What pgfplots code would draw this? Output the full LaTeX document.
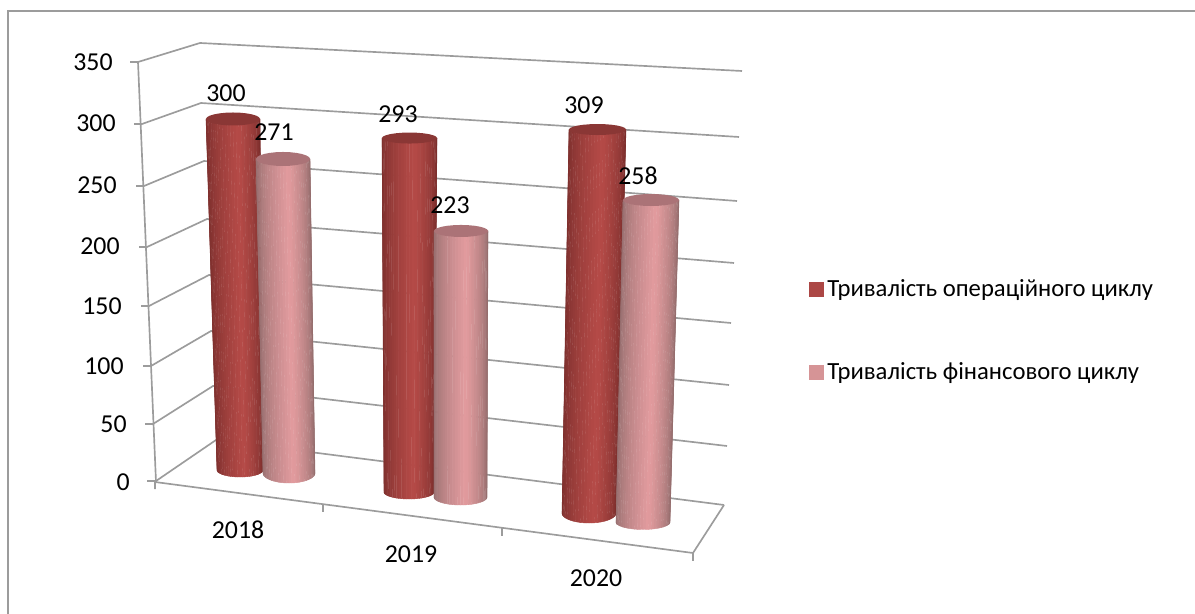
\documentclass[border=0pt]{standalone}
\usepackage{fontspec}
\setmainfont{Carlito}
\usepackage{pgfplots}
\usepackage{pgfplotstable}
\pgfplotsset{compat=1.18}
\definecolor{gridg}{HTML}{9C9C9C}
\definecolor{capred}{HTML}{8A3735}
\definecolor{cappink}{HTML}{AB7377}
\definecolor{legred}{HTML}{AC4745}
\definecolor{legpink}{HTML}{D69496}
% value, top and base of each cylinder in picture pixels, then the pixels per unit
\pgfplotstableread{
year value xtl xtr xbl xbr yb hb ht scale lx ly
2018 300 206 260 217 263 470 7 6.5 1.17 226 93
2019 293 382 437 384 434 492 7 5.5 1.208 398 114
2020 309 569 626 562 616 513 10 5.5 1.241 584 105
}\serA
\pgfplotstableread{
year value xtl xtr xbl xbr yb hb ht scale lx ly
2018 271 256 310 263 315 473 10 7 1.1587 274 132
2019 223 434 488 434 487 497 8 6 1.193 450 205
2020 258 623 679 616 670 522 7.5 6 1.248 638 176
}\serB
\newcommand{\gv}[3]{\pgfplotstablegetelem{#2}{#3}\of{#1}\edef\gvres{\pgfplotsretval}}
\newcommand{\setred}{\def\eR{122}\def\eG{46}\def\eB{44}\def\cR{182}\def\cG{75}\def\cB{72}\def\capc{capred}}
\newcommand{\setpink}{\def\eR{146}\def\eG{108}\def\eB{108}\def\cR{227}\def\cG{156}\def\cB{159}\def\capc{cappink}}
\newcommand{\drawcyl}[2]{%
 \gv{#1}{#2}{value}\let\cV\gvres
 \gv{#1}{#2}{xtl}\let\cXtl\gvres
 \gv{#1}{#2}{xtr}\let\cXtr\gvres
 \gv{#1}{#2}{xbl}\let\cXbl\gvres
 \gv{#1}{#2}{xbr}\let\cXbr\gvres
 \gv{#1}{#2}{yb}\let\cYb\gvres
 \gv{#1}{#2}{hb}\let\cHb\gvres
 \gv{#1}{#2}{ht}\let\cHt\gvres
 \gv{#1}{#2}{scale}\let\cS\gvres
 \pgfmathsetmacro\cYt{\cYb-\cV*\cS}%
 \pgfmathsetmacro\cAt{(\cXtr-\cXtl)/2}%
 \pgfmathsetmacro\cCt{(\cXtr+\cXtl)/2}%
 \foreach \t in {0,6,...,174}{%
  \pgfmathsetmacro\fa{(1-cos(\t))/2}%
  \pgfmathsetmacro\fb{(1-cos(\t+6))/2}%
  \pgfmathsetmacro\fm{(\fa+\fb)/2}%
  \pgfmathsetmacro\tt{pow(\fm<0.6 ? \fm/0.6 : (1-\fm)/0.4, 0.6)}%
  \pgfmathtruncatemacro\sR{\eR+(\cR-\eR)*\tt}%
  \pgfmathtruncatemacro\sG{\eG+(\cG-\eG)*\tt}%
  \pgfmathtruncatemacro\sB{\eB+(\cB-\eB)*\tt}%
  \pgfmathsetmacro\xta{\cXtl+\fa*(\cXtr-\cXtl)}%
  \pgfmathsetmacro\xtb{\cXtl+\fb*(\cXtr-\cXtl)}%
  \pgfmathsetmacro\xba{\cXbl+\fa*(\cXbr-\cXbl)}%
  \pgfmathsetmacro\xbb{\cXbl+\fb*(\cXbr-\cXbl)}%
  \pgfmathsetmacro\yba{\cYb+\cHb*sin(\t)}%
  \pgfmathsetmacro\ybb{\cYb+\cHb*sin(\t+6)}%
  \edef\tmp{\noexpand\addplot[forget plot,line width=0.25pt,
    color={rgb,255:red,\sR;green,\sG;blue,\sB},fill={rgb,255:red,\sR;green,\sG;blue,\sB}]
    coordinates {(\xta,\cYt)(\xba,\yba)(\xbb,\ybb)(\xtb,\cYt)} -- cycle;}\tmp
 }%
 \xdef\pts{}%
 \foreach \t in {0,15,...,345}{%
  \pgfmathsetmacro\px{\cCt+\cAt*cos(\t)}%
  \pgfmathsetmacro\py{\cYt+\cHt*sin(\t)}%
  \xdef\pts{\pts (\px,\py)}}%
 \edef\tmp{\noexpand\addplot[draw=none,forget plot,fill=\capc] coordinates {\pts} -- cycle;}\tmp
}
\newcommand{\drawlab}[2]{%
 \gv{#1}{#2}{value}\let\cV\gvres
 \gv{#1}{#2}{lx}\let\cLx\gvres
 \gv{#1}{#2}{ly}\let\cLy\gvres
 \edef\tmp{\noexpand\node[inner sep=0pt,font=\noexpand\fontsize{15.5}{18}\noexpand\selectfont] at (axis cs:\cLx,\cLy) {\cV};}\tmp
}
\begin{document}
\begin{tikzpicture}
\useasboundingbox (0,0) rectangle (717pt,368.4pt);
\begin{axis}[
 scale only axis, width=717pt, height=368.4pt,
 xmin=0, xmax=1195, ymin=0, ymax=614, y dir=reverse,
 hide axis, clip=false,
 legend cell align=left,
 legend image code/.code={\fill[#1] (0pt,-4.2pt) rectangle (8.4pt,4.2pt);},
 legend style={at={(axis cs:809,279)},anchor=north west,draw=none,fill=none,inner sep=0pt,
   row sep=38pt,font=\fontsize{14.8}{16}\selectfont,
   nodes={inner xsep=2pt,inner ysep=0pt}},
]
% chart frame: top and left edges only
\addplot[color=gridg,line width=1.2pt,forget plot] coordinates {(8,614)(8,11)(1195,11)};
% grid levels: tick, axis, back corner, right end
\addplot[gridg,line width=1pt,forget plot] coordinates {(130,62)(138,62)(200,43)(742,71)};
\addplot[gridg,line width=1pt,forget plot] coordinates {(134,124)(142,124)(201,103)(739,137)};
\addplot[gridg,line width=1pt,forget plot] coordinates {(136,186)(144,186)(204,161)(737,201)};
\addplot[gridg,line width=1pt,forget plot] coordinates {(139,247)(147,247)(207,219)(734,263)};
\addplot[gridg,line width=1pt,forget plot] coordinates {(141,306)(149,306)(209,275)(731,323)};
\addplot[gridg,line width=1pt,forget plot] coordinates {(143,366)(151,366)(211,331)(729,385)};
\addplot[gridg,line width=1pt,forget plot] coordinates {(145,424)(153,424)(213,386)(727,446)};
\addplot[gridg,line width=1pt,forget plot] coordinates {(147,481)(156,481)(216,440)(724,505)};
% value axis and floor
\addplot[gridg,line width=1pt,forget plot] coordinates {(138,62)(156,482)};
\addplot[gridg,line width=1pt,forget plot] coordinates {(155,489)(155,482)(693,553)(724,505)};
\addplot[gridg,line width=1pt,forget plot] coordinates {(323,504)(323,512)};
\addplot[gridg,line width=1pt,forget plot] coordinates {(502,528)(502,536)};
\addplot[gridg,line width=1pt,forget plot] coordinates {(693,553)(693,561)};
% cylinders
\setred\drawcyl{\serA}{0}
\setpink\drawcyl{\serB}{0}
\setred\drawcyl{\serA}{1}
\setpink\drawcyl{\serB}{1}
\setred\drawcyl{\serA}{2}
\setpink\drawcyl{\serB}{2}
\drawlab{\serA}{0}\drawlab{\serB}{0}
\drawlab{\serA}{1}\drawlab{\serB}{1}
\drawlab{\serA}{2}\drawlab{\serB}{2}
% value axis labels
\tikzset{vl/.style={anchor=east,inner sep=0pt,font=\fontsize{15.5}{18}\selectfont}}
\node[vl] at (axis cs:113,62) {350};
\node[vl] at (axis cs:116,123) {300};
\node[vl] at (axis cs:117,185) {250};
\node[vl] at (axis cs:120,246) {200};
\node[vl] at (axis cs:122,306) {150};
\node[vl] at (axis cs:124,366) {100};
\node[vl] at (axis cs:127,424) {50};
\node[vl] at (axis cs:130,482) {0};
\tikzset{cl/.style={inner sep=0pt,font=\fontsize{15.5}{18}\selectfont}}
\node[cl] at (axis cs:238,530) {2018};
\node[cl] at (axis cs:411,554) {2019};
\node[cl] at (axis cs:596,578) {2020};
\addlegendimage{legred}\addlegendentry{Тривалість операційного циклу}
\addlegendimage{legpink}\addlegendentry{Тривалість фінансового циклу}
\end{axis}
\end{tikzpicture}
\end{document}
